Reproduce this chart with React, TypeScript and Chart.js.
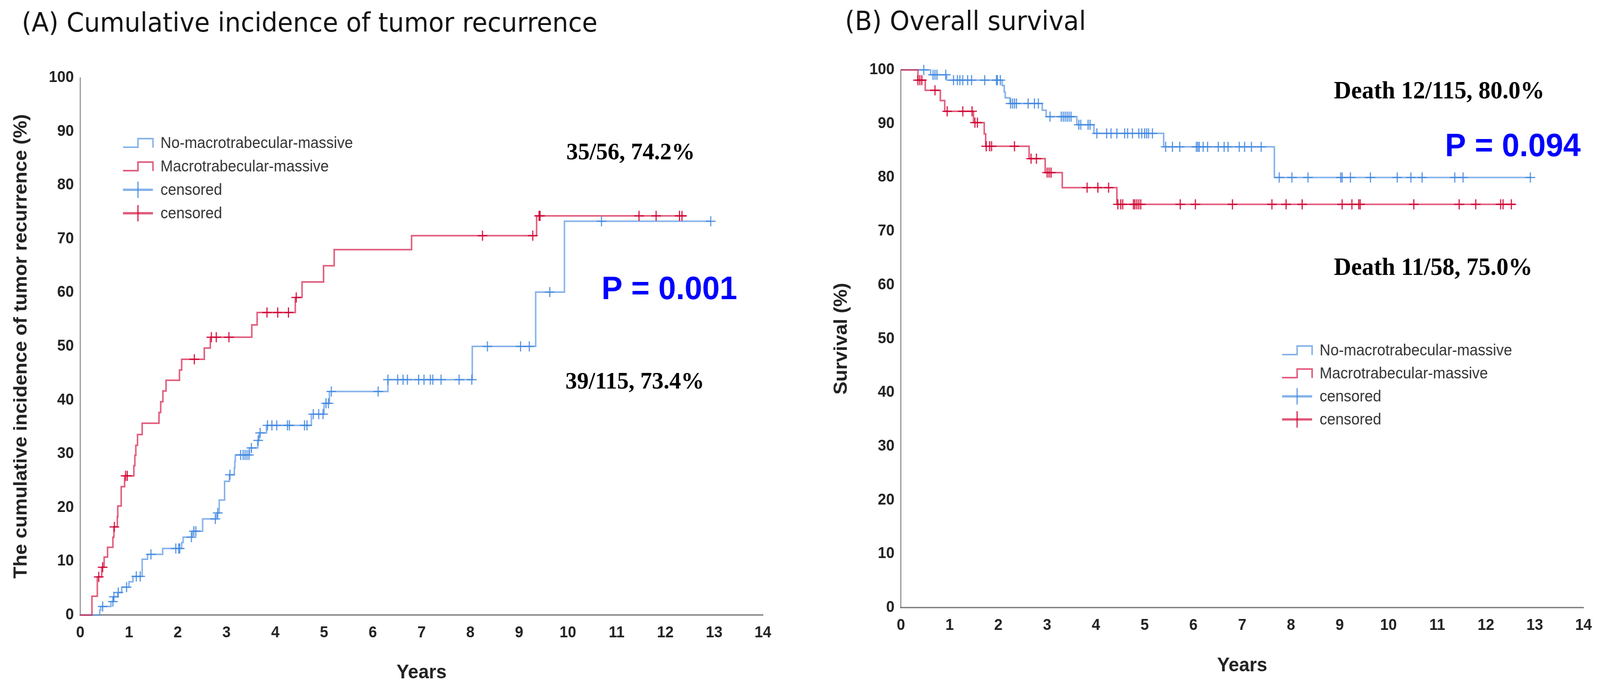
import React, { useEffect, useRef } from 'react';
import { Chart, registerables } from 'chart.js';

Chart.register(...registerables);

// ---------- axis tick values ----------
const yearTicks = [0, 1, 2, 3, 4, 5, 6, 7, 8, 9, 10, 11, 12, 13, 14];
const percentTicks = [0, 10, 20, 30, 40, 50, 60, 70, 80, 90, 100];

// ---------- (A) cumulative incidence of tumor recurrence ----------
// No-macrotrabecular-massive
const recurNoTimes = [0, 0.40, 0.42, 0.63, 0.68, 0.77, 0.85, 1.00, 1.08, 1.27, 1.38, 1.69, 2.08, 2.11, 2.30, 2.51, 2.80, 2.85, 2.96, 3.06, 3.16, 3.17, 3.18, 3.47, 3.64, 3.67, 3.82, 4.74, 5.00, 5.11, 6.31, 8.04, 9.34, 9.93, 12.93];
const recurNoValues = [0, 0.9, 1.6, 2.5, 3.4, 4.2, 5.2, 6.2, 7.2, 10.4, 11.3, 12.4, 13.5, 14.5, 15.6, 17.9, 19.0, 21.4, 24.9, 26.1, 27.4, 28.6, 29.8, 31.1, 32.5, 33.9, 35.3, 37.4, 39.4, 41.6, 43.8, 50.0, 60.1, 73.3, 73.3];
const recurNoCensorTimes = [0.46, 0.67, 0.69, 0.78, 0.95, 1.15, 1.23, 1.45, 1.96, 2.02, 2.04, 2.28, 2.33, 2.37, 2.77, 2.82, 3.07, 3.29, 3.34, 3.38, 3.42, 3.46, 3.51, 3.65, 3.69, 3.84, 3.93, 4.03, 4.25, 4.29, 4.60, 4.65, 4.78, 4.89, 4.98, 5.04, 5.09, 5.15, 6.11, 6.31, 6.51, 6.62, 6.71, 6.94, 7.05, 7.18, 7.23, 7.40, 7.77, 8.03, 8.35, 9.03, 9.21, 9.63, 10.69, 12.93];
const recurNoCensorValues = [1.6, 2.5, 3.4, 4.2, 5.2, 7.2, 7.2, 11.3, 12.4, 12.4, 12.4, 14.5, 15.6, 15.6, 17.9, 19.0, 26.1, 29.8, 29.8, 29.8, 29.8, 29.8, 31.1, 32.5, 33.9, 35.3, 35.3, 35.3, 35.3, 35.3, 35.3, 35.3, 37.4, 37.4, 37.4, 39.4, 39.4, 41.6, 41.6, 43.8, 43.8, 43.8, 43.8, 43.8, 43.8, 43.8, 43.8, 43.8, 43.8, 43.8, 50.0, 50.0, 50.0, 60.1, 73.3, 73.3];
// Macrotrabecular-massive
const recurMtmTimes = [0, 0.24, 0.35, 0.44, 0.49, 0.56, 0.67, 0.69, 0.76, 0.77, 0.84, 0.91, 1.10, 1.12, 1.14, 1.175, 1.27, 1.615, 1.65, 1.695, 1.76, 2.035, 2.08, 2.544, 2.668, 3.518, 3.628, 4.41, 4.549, 4.99, 5.208, 6.795, 9.36, 12.43];
const recurMtmValues = [0, 3.5, 7.1, 8.9, 10.8, 12.6, 14.5, 16.4, 18.3, 20.3, 23.9, 25.9, 27.8, 29.7, 31.6, 33.6, 35.7, 37.7, 39.7, 41.7, 43.7, 45.6, 47.6, 49.7, 51.7, 54.0, 56.3, 59.1, 62.0, 65.0, 68.0, 70.6, 74.3, 74.3];
const recurMtmCensorTimes = [0.38, 0.46, 0.70, 0.93, 0.965, 2.34, 2.69, 2.79, 3.05, 3.83, 4.05, 4.27, 4.43, 8.25, 9.28, 9.41, 9.43, 11.46, 11.81, 12.29, 12.34];
const recurMtmCensorValues = [7.1, 8.9, 16.4, 25.9, 25.9, 47.6, 51.7, 51.7, 51.7, 56.3, 56.3, 56.3, 59.1, 70.6, 70.6, 74.3, 74.3, 74.3, 74.3, 74.3, 74.3];

// ---------- (B) overall survival ----------
const survNoTimes = [0, 0.61, 0.94, 2.08, 2.12, 2.14, 2.24, 2.90, 2.98, 3.61, 3.96, 5.39, 7.66, 12.93];
const survNoValues = [100, 99.1, 98.1, 97.1, 95.9, 94.8, 93.75, 92.5, 91.3, 89.8, 88.2, 85.7, 80.0, 80.0];
const survNoCensorTimes = [0.47, 0.66, 0.70, 0.74, 0.92, 1.08, 1.16, 1.21, 1.27, 1.37, 1.45, 1.72, 1.96, 1.98, 2.04, 2.25, 2.29, 2.33, 2.37, 2.61, 2.74, 2.82, 3.06, 3.29, 3.33, 3.37, 3.41, 3.45, 3.49, 3.65, 3.69, 3.84, 3.88, 4.02, 4.22, 4.31, 4.43, 4.59, 4.65, 4.75, 4.88, 4.94, 5.00, 5.04, 5.08, 5.16, 5.43, 5.57, 5.72, 6.06, 6.09, 6.12, 6.20, 6.29, 6.51, 6.63, 6.71, 6.94, 7.05, 7.19, 7.39, 7.76, 8.02, 8.35, 9.02, 9.05, 9.22, 9.63, 10.18, 10.46, 10.69, 11.36, 11.53, 12.91];
const survNoCensorValues = [100, 99.1, 99.1, 99.1, 99.1, 98.1, 98.1, 98.1, 98.1, 98.1, 98.1, 98.1, 98.1, 98.1, 98.1, 93.75, 93.75, 93.75, 93.75, 93.75, 93.75, 93.75, 91.3, 91.3, 91.3, 91.3, 91.3, 91.3, 91.3, 89.8, 89.8, 89.8, 89.8, 88.2, 88.2, 88.2, 88.2, 88.2, 88.2, 88.2, 88.2, 88.2, 88.2, 88.2, 88.2, 88.2, 85.7, 85.7, 85.7, 85.7, 85.7, 85.7, 85.7, 85.7, 85.7, 85.7, 85.7, 85.7, 85.7, 85.7, 85.7, 80.0, 80.0, 80.0, 80.0, 80.0, 80.0, 80.0, 80.0, 80.0, 80.0, 80.0, 80.0, 80.0];
const survMtmTimes = [0, 0.35, 0.50, 0.81, 0.90, 1.49, 1.71, 1.74, 2.63, 2.96, 3.31, 4.43, 12.59];
const survMtmValues = [100, 98.1, 96.2, 94.3, 92.3, 90.2, 88.1, 85.8, 83.5, 80.9, 78.1, 75.0, 75.0];
const survMtmCensorTimes = [0.35, 0.39, 0.43, 0.70, 0.95, 1.27, 1.46, 1.52, 1.57, 1.75, 1.82, 1.86, 2.33, 2.67, 2.78, 3.00, 3.04, 3.08, 3.82, 4.04, 4.26, 4.45, 4.51, 4.55, 4.77, 4.80, 4.84, 4.88, 4.92, 5.73, 6.04, 6.80, 7.61, 7.90, 8.23, 9.05, 9.25, 9.39, 9.42, 10.52, 11.45, 11.79, 12.30, 12.35, 12.52];
const survMtmCensorValues = [98.1, 98.1, 98.1, 96.2, 92.3, 92.3, 92.3, 90.2, 90.2, 85.8, 85.8, 85.8, 85.8, 83.5, 83.5, 80.9, 80.9, 80.9, 78.1, 78.1, 78.1, 75.0, 75.0, 75.0, 75.0, 75.0, 75.0, 75.0, 75.0, 75.0, 75.0, 75.0, 75.0, 75.0, 75.0, 75.0, 75.0, 75.0, 75.0, 75.0, 75.0, 75.0, 75.0, 75.0, 75.0];

const legendLabels = ['No-macrotrabecular-massive', 'Macrotrabecular-massive', 'censored', 'censored'];

// ---------- styles ----------
const BLUE_LINE = 'rgba(88,150,226,0.72)';
const RED_LINE = 'rgba(214,28,72,0.72)';
const BLUE_MARK = 'rgba(66,136,224,0.9)';
const RED_MARK = 'rgba(208,0,48,0.92)';
const SANS = '"Liberation Sans", Arial, sans-serif';
const SERIF = '"Liberation Serif", "Times New Roman", serif';
const PAGE_W = 4268;
const PAGE_H = 1772;
const W = 2134;
const H = 1772;

type Note = { text: string; x: number; y: number; font: string; color: string };
type Panel = {
  title: string;
  titleX: number;
  titleY: number;
  yTitle: string;
  padding: { left: number; right: number; top: number; bottom: number };
  xTitlePad: number;
  yTitlePad: number;
  noT: number[]; noV: number[]; noCT: number[]; noCV: number[];
  mtT: number[]; mtV: number[]; mtCT: number[]; mtCV: number[];
  notes: Note[];
  legendX: number;
  legendY: number;
  legendDy: number;
};

const pts = (xs: number[], ys: number[]) => xs.map((x, i) => ({ x, y: ys[i] }));

const panelA: Panel = {
  title: '(A) Cumulative incidence of tumor recurrence',
  titleX: 58, titleY: 64,
  yTitle: 'The cumulative incidence of tumor recurrence (%)',
  padding: { left: 14, right: 99, top: 199, bottom: 0 },
  xTitlePad: 19, yTitlePad: 13,
  noT: recurNoTimes, noV: recurNoValues, noCT: recurNoCensorTimes, noCV: recurNoCensorValues,
  mtT: recurMtmTimes, mtV: recurMtmValues, mtCT: recurMtmCensorTimes, mtCV: recurMtmCensorValues,
  notes: [
    { text: '35/56, 74.2%', x: 9.97, y: 86.0, font: `bold 62px ${SERIF}`, color: '#000' },
    { text: '39/115, 73.4%', x: 9.95, y: 43.3, font: `bold 62px ${SERIF}`, color: '#000' },
    { text: 'P = 0.001', x: 10.69, y: 60.5, font: `bold 84px ${SANS}`, color: '#0000ff' },
  ],
  legendX: 328, legendY: 366, legendDy: 60,
};

const panelB: Panel = {
  title: '(B) Overall survival',
  titleX: 120, titleY: 60,
  yTitle: 'Survival (%)',
  padding: { left: 69, right: 44, top: 179, bottom: 19 },
  xTitlePad: 18, yTitlePad: 12,
  noT: survNoTimes, noV: survNoValues, noCT: survNoCensorTimes, noCV: survNoCensorValues,
  mtT: survMtmTimes, mtV: survMtmValues, mtCT: survMtmCensorTimes, mtCV: survMtmCensorValues,
  notes: [
    { text: 'Death 12/115, 80.0%', x: 8.88, y: 95.9, font: `bold 64px ${SERIF}`, color: '#000' },
    { text: 'Death 11/58, 75.0%', x: 8.88, y: 63.1, font: `bold 64px ${SERIF}`, color: '#000' },
    { text: 'P = 0.094', x: 11.16, y: 85.6, font: `bold 84px ${SANS}`, color: '#0000ff' },
  ],
  legendX: 1286, legendY: 897, legendDy: 59,
};

function overlayPlugin(p: Panel) {
  return {
    id: 'overlay',
    afterDraw(chart: any) {
      const ctx: CanvasRenderingContext2D = chart.ctx;
      const xs = chart.scales.x;
      const ys = chart.scales.y;
      ctx.save();
      // panel title
      ctx.font = `67px "DejaVu Sans", sans-serif`;
      ctx.fillStyle = '#111';
      ctx.textAlign = 'left';
      ctx.textBaseline = 'middle';
      ctx.fillText(p.title, p.titleX, p.titleY);
      // annotations
      p.notes.forEach((n) => {
        ctx.font = n.font;
        ctx.fillStyle = n.color;
        ctx.fillText(n.text, xs.getPixelForValue(n.x), ys.getPixelForValue(n.y));
      });
      // legend
      const lineCols = [BLUE_LINE, RED_LINE, BLUE_LINE, RED_LINE];
      const markCols = [BLUE_MARK, RED_MARK, BLUE_MARK, RED_MARK];
      const x0 = p.legendX;
      const gw = 80;
      legendLabels.forEach((label, i) => {
        const cy = p.legendY + i * p.legendDy;
        ctx.lineCap = 'butt';
        if (i < 2) {
          ctx.strokeStyle = lineCols[i];
          ctx.lineWidth = 4;
          ctx.beginPath();
          ctx.moveTo(x0, cy + 11);
          ctx.lineTo(x0 + 40, cy + 11);
          ctx.lineTo(x0 + 40, cy - 11);
          ctx.lineTo(x0 + gw, cy - 11);
          ctx.lineTo(x0 + gw, cy + 12);
          ctx.stroke();
        } else {
          ctx.strokeStyle = lineCols[i];
          ctx.lineWidth = 6;
          ctx.beginPath();
          ctx.moveTo(x0, cy);
          ctx.lineTo(x0 + gw, cy);
          ctx.stroke();
          ctx.strokeStyle = markCols[i];
          ctx.lineWidth = 3;
          ctx.beginPath();
          ctx.moveTo(x0 + 40, cy - 21);
          ctx.lineTo(x0 + 40, cy + 21);
          ctx.stroke();
        }
        ctx.font = `40px ${SANS}`;
        ctx.fillStyle = '#333';
        ctx.textBaseline = 'middle';
        ctx.fillText(label, x0 + 100, cy + 2);
      });
      ctx.restore();
    },
  };
}

function makeChart(canvas: HTMLCanvasElement, p: Panel) {
  const tickFont = { family: SANS, size: 40, weight: 'bold' as const };
  const titleFont = { family: SANS, size: 50, weight: 'bold' as const };
  const zeroPad = (s: any) => {
    s.paddingLeft = 0;
    s.paddingRight = 0;
    s.paddingTop = 0;
    s.paddingBottom = 0;
  };
  return new Chart(canvas, {
    type: 'line',
    data: {
      datasets: [
        {
          type: 'scatter',
          data: pts(p.mtCT, p.mtCV),
          showLine: false,
          pointStyle: 'cross',
          pointRadius: 13,
          pointBorderWidth: 3,
          borderColor: RED_MARK,
          pointBorderColor: RED_MARK,
          backgroundColor: RED_MARK,
          clip: false,
        } as any,
        {
          type: 'scatter',
          data: pts(p.noCT, p.noCV),
          showLine: false,
          pointStyle: 'cross',
          pointRadius: 13,
          pointBorderWidth: 3,
          borderColor: BLUE_MARK,
          pointBorderColor: BLUE_MARK,
          backgroundColor: BLUE_MARK,
          clip: false,
        } as any,
        {
          type: 'line',
          data: pts(p.mtT, p.mtV),
          stepped: true,
          borderColor: RED_LINE,
          borderWidth: 4,
          pointRadius: 0,
          fill: false,
          clip: false,
        } as any,
        {
          type: 'line',
          data: pts(p.noT, p.noV),
          stepped: true,
          borderColor: BLUE_LINE,
          borderWidth: 4,
          pointRadius: 0,
          fill: false,
          clip: false,
        } as any,
      ],
    },
    options: {
      responsive: false,
      animation: false,
      devicePixelRatio: 1,
      events: [],
      layout: { padding: p.padding },
      plugins: {
        legend: { display: false },
        tooltip: { enabled: false },
        title: { display: false },
      },
      scales: {
        x: {
          type: 'linear',
          min: 0,
          max: 14,
          afterBuildTicks: (s: any) => {
            s.ticks = yearTicks.map((v) => ({ value: v }));
          },
          afterFit: (s: any) => {
            s.height = 197;
            zeroPad(s);
          },
          grid: { display: false, drawTicks: false },
          border: { display: true, color: '#808080', width: 3.5 },
          ticks: { font: tickFont, color: '#222', padding: 22, maxRotation: 0, autoSkip: false },
          title: {
            display: true,
            text: 'Years',
            font: titleFont,
            color: '#222',
            padding: { top: 0, bottom: p.xTitlePad },
          },
        },
        y: {
          type: 'linear',
          min: 0,
          max: 100,
          afterBuildTicks: (s: any) => {
            s.ticks = percentTicks.map((v) => ({ value: v }));
          },
          afterFit: (s: any) => {
            s.width = 200;
            zeroPad(s);
          },
          grid: { display: false, drawTicks: false },
          border: { display: true, color: '#666', width: 2 },
          ticks: { font: tickFont, color: '#222', padding: 17, autoSkip: false },
          title: {
            display: true,
            text: p.yTitle,
            font: titleFont,
            color: '#222',
            padding: { top: p.yTitlePad, bottom: 0 },
          },
        },
      },
    } as any,
    plugins: [overlayPlugin(p)],
  });
}

export default function App() {
  const refA = useRef<HTMLCanvasElement>(null);
  const refB = useRef<HTMLCanvasElement>(null);
  useEffect(() => {
    const charts = [makeChart(refA.current!, panelA), makeChart(refB.current!, panelB)];
    return () => charts.forEach((c) => c.destroy());
  }, []);
  // fit the 4268-wide layout into the actual viewport if it is narrower
  const vw = typeof window !== 'undefined' ? window.innerWidth : PAGE_W;
  const vh = typeof window !== 'undefined' ? window.innerHeight : PAGE_H;
  const sx = Math.min(1, vw / PAGE_W);
  const sy = Math.min(1, vh / PAGE_H);
  const canvasStyle = (left: number): React.CSSProperties => ({
    position: 'absolute',
    left: left * sx,
    top: 0,
    width: W * sx,
    height: H * sy,
  });
  return (
    <div style={{ position: 'absolute', left: 0, top: 0, width: PAGE_W * sx, height: PAGE_H * sy, background: '#fff', overflow: 'hidden' }}>
      <canvas ref={refA} width={W} height={H} style={canvasStyle(0)} />
      <canvas ref={refB} width={W} height={H} style={canvasStyle(W)} />
    </div>
  );
}
